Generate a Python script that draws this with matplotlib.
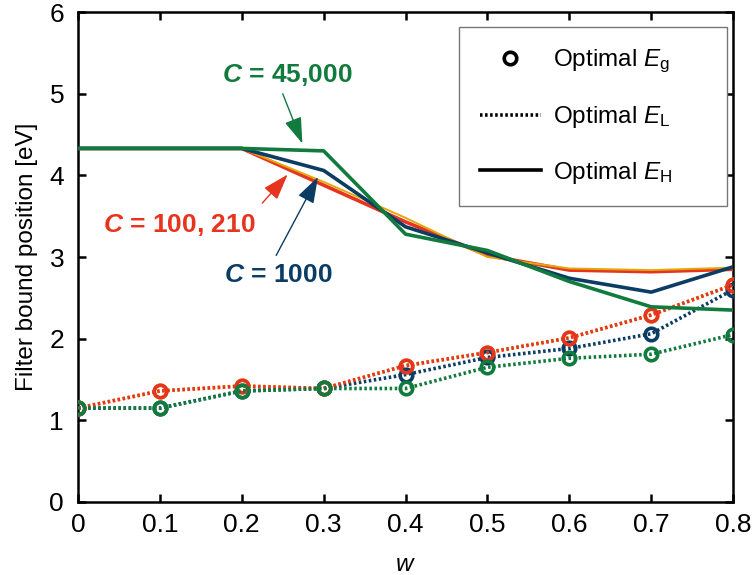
import matplotlib
matplotlib.use("Agg")
import matplotlib.pyplot as plt
from matplotlib.lines import Line2D

plt.rcParams['font.family'] = ['Liberation Sans', 'DejaVu Sans']
plt.rcParams['mathtext.fontset'] = 'custom'
plt.rcParams['mathtext.rm'] = 'Liberation Sans'
plt.rcParams['mathtext.it'] = 'Liberation Sans:italic'
plt.rcParams['mathtext.bf'] = 'Liberation Sans:bold'
plt.rcParams['mathtext.bfit'] = 'Liberation Sans:italic:bold'

w = [0, 0.1, 0.2, 0.3, 0.4, 0.5, 0.6, 0.7, 0.8]

# Optimal E_H (upper bound)
EH_100 = [4.33, 4.33, 4.33, 3.88, 3.43, 3.02, 2.84, 2.82, 2.85]
EH_210 = [4.33, 4.33, 4.33, 3.92, 3.48, 3.00, 2.86, 2.84, 2.87]
EH_1000 = [4.33, 4.33, 4.33, 4.06, 3.37, 3.05, 2.74, 2.57, 2.88]
EH_45000 = [4.33, 4.33, 4.33, 4.30, 3.28, 3.08, 2.70, 2.39, 2.35]

# Optimal E_L = E_g (lower bound)
EL_100 = [1.15, 1.36, 1.42, 1.39, 1.67, 1.83, 2.01, 2.29, 2.66]
EL_210 = [1.15, 1.36, 1.42, 1.39, 1.67, 1.83, 2.01, 2.29, 2.66]
EL_1000 = [1.15, 1.15, 1.36, 1.39, 1.56, 1.77, 1.88, 2.06, 2.60]
EL_45000 = [1.15, 1.15, 1.36, 1.39, 1.39, 1.65, 1.76, 1.81, 2.05]

xticks = [0, 0.1, 0.2, 0.3, 0.4, 0.5, 0.6, 0.7, 0.8]
xticklabels = ['0', '0.1', '0.2', '0.3', '0.4', '0.5', '0.6', '0.7', '0.8']
yticks = [0, 1, 2, 3, 4, 5, 6]

RED = '#e6341f'
ORANGE = '#e2a90c'
BLUE = '#0b3c63'
GREEN = '#117a3d'

fig = plt.figure(figsize=(7.53, 5.75), dpi=100)
ax = fig.add_axes([0.1036, 0.127, 0.87, 0.852])

# lower series
dot = (0, (0.7, 0.7))
for vals, col in [(EL_210, ORANGE), (EL_1000, BLUE), (EL_100, RED), (EL_45000, GREEN)]:
    ax.plot(w, vals, color=col, lw=2.6, linestyle=dot, marker='o', markersize=9,
            markerfacecolor='none', markeredgecolor=col, markeredgewidth=2.6, zorder=3)

# upper series
ax.plot(w, EH_100, color=RED, lw=2.6, zorder=3)
ax.plot(w, EH_210, color=ORANGE, lw=1.4, zorder=3)
ax.plot(w, EH_1000, color=BLUE, lw=2.6, zorder=3)
ax.plot(w, EH_45000, color=GREEN, lw=2.6, zorder=3)

ax.set_xlim(0, 0.8)
ax.set_ylim(0, 6)
ax.set_xticks(xticks)
ax.set_xticklabels(xticklabels)
ax.set_yticks(yticks)
ax.tick_params(direction='in', length=6, width=1.8, labelsize=19, top=True, right=True, pad=8)
ax.tick_params(axis='y', pad=10)
for s in ax.spines.values():
    s.set_linewidth(1.8)

ax.set_xlabel('$w$', fontsize=17.5, labelpad=12)
ax.set_ylabel('Filter bound position [eV]', fontsize=17.5, labelpad=8)

# annotations
ax.text(0.255, 5.23, r'$\mathbfit{C}$ = 45,000', color=GREEN, fontsize=19,
        fontweight='bold', ha='center', va='center')
ax.text(0.124, 3.39, r'$\mathbfit{C}$ = 100, 210', color=RED, fontsize=19,
        fontweight='bold', ha='center', va='center')
ax.text(0.245, 2.78, r'$\mathbfit{C}$ = 1000', color=BLUE, fontsize=19,
        fontweight='bold', ha='center', va='center')

arrows = [((0.250, 5.00), (0.274, 4.39), GREEN),
          ((0.225, 3.66), (0.256, 4.01), RED),
          ((0.242, 3.02), (0.293, 3.98), BLUE)]
for tail, head, col in arrows:
    ax.annotate('', xy=head, xytext=tail,
                arrowprops=dict(arrowstyle='-|>,head_length=0.9,head_width=0.3',
                                mutation_scale=18, color=col, lw=1,
                                shrinkA=0, shrinkB=0), zorder=4)

handles = [
    Line2D([], [], color='black', linestyle='none', marker='o', markersize=9,
           markerfacecolor='none', markeredgewidth=2.6),
    Line2D([], [], color='black', lw=2.6, linestyle=dot),
    Line2D([], [], color='black', lw=2.6),
]
labels = [r'Optimal $E_{\mathrm{g}}$', r'Optimal $E_{\mathrm{L}}$', r'Optimal $E_{\mathrm{H}}$']
leg = ax.legend(handles, labels, loc='upper left', mode='expand',
                bbox_to_anchor=(0.582, 0.5, 0.409, 0.469),
                borderaxespad=0, fontsize=17.5, handlelength=2.5, handletextpad=0.5,
                labelspacing=1.2, borderpad=0.85, fancybox=False, framealpha=1,
                edgecolor='#777777')
leg.get_frame().set_linewidth(1.0)

fig.savefig('out.png', dpi=100)
